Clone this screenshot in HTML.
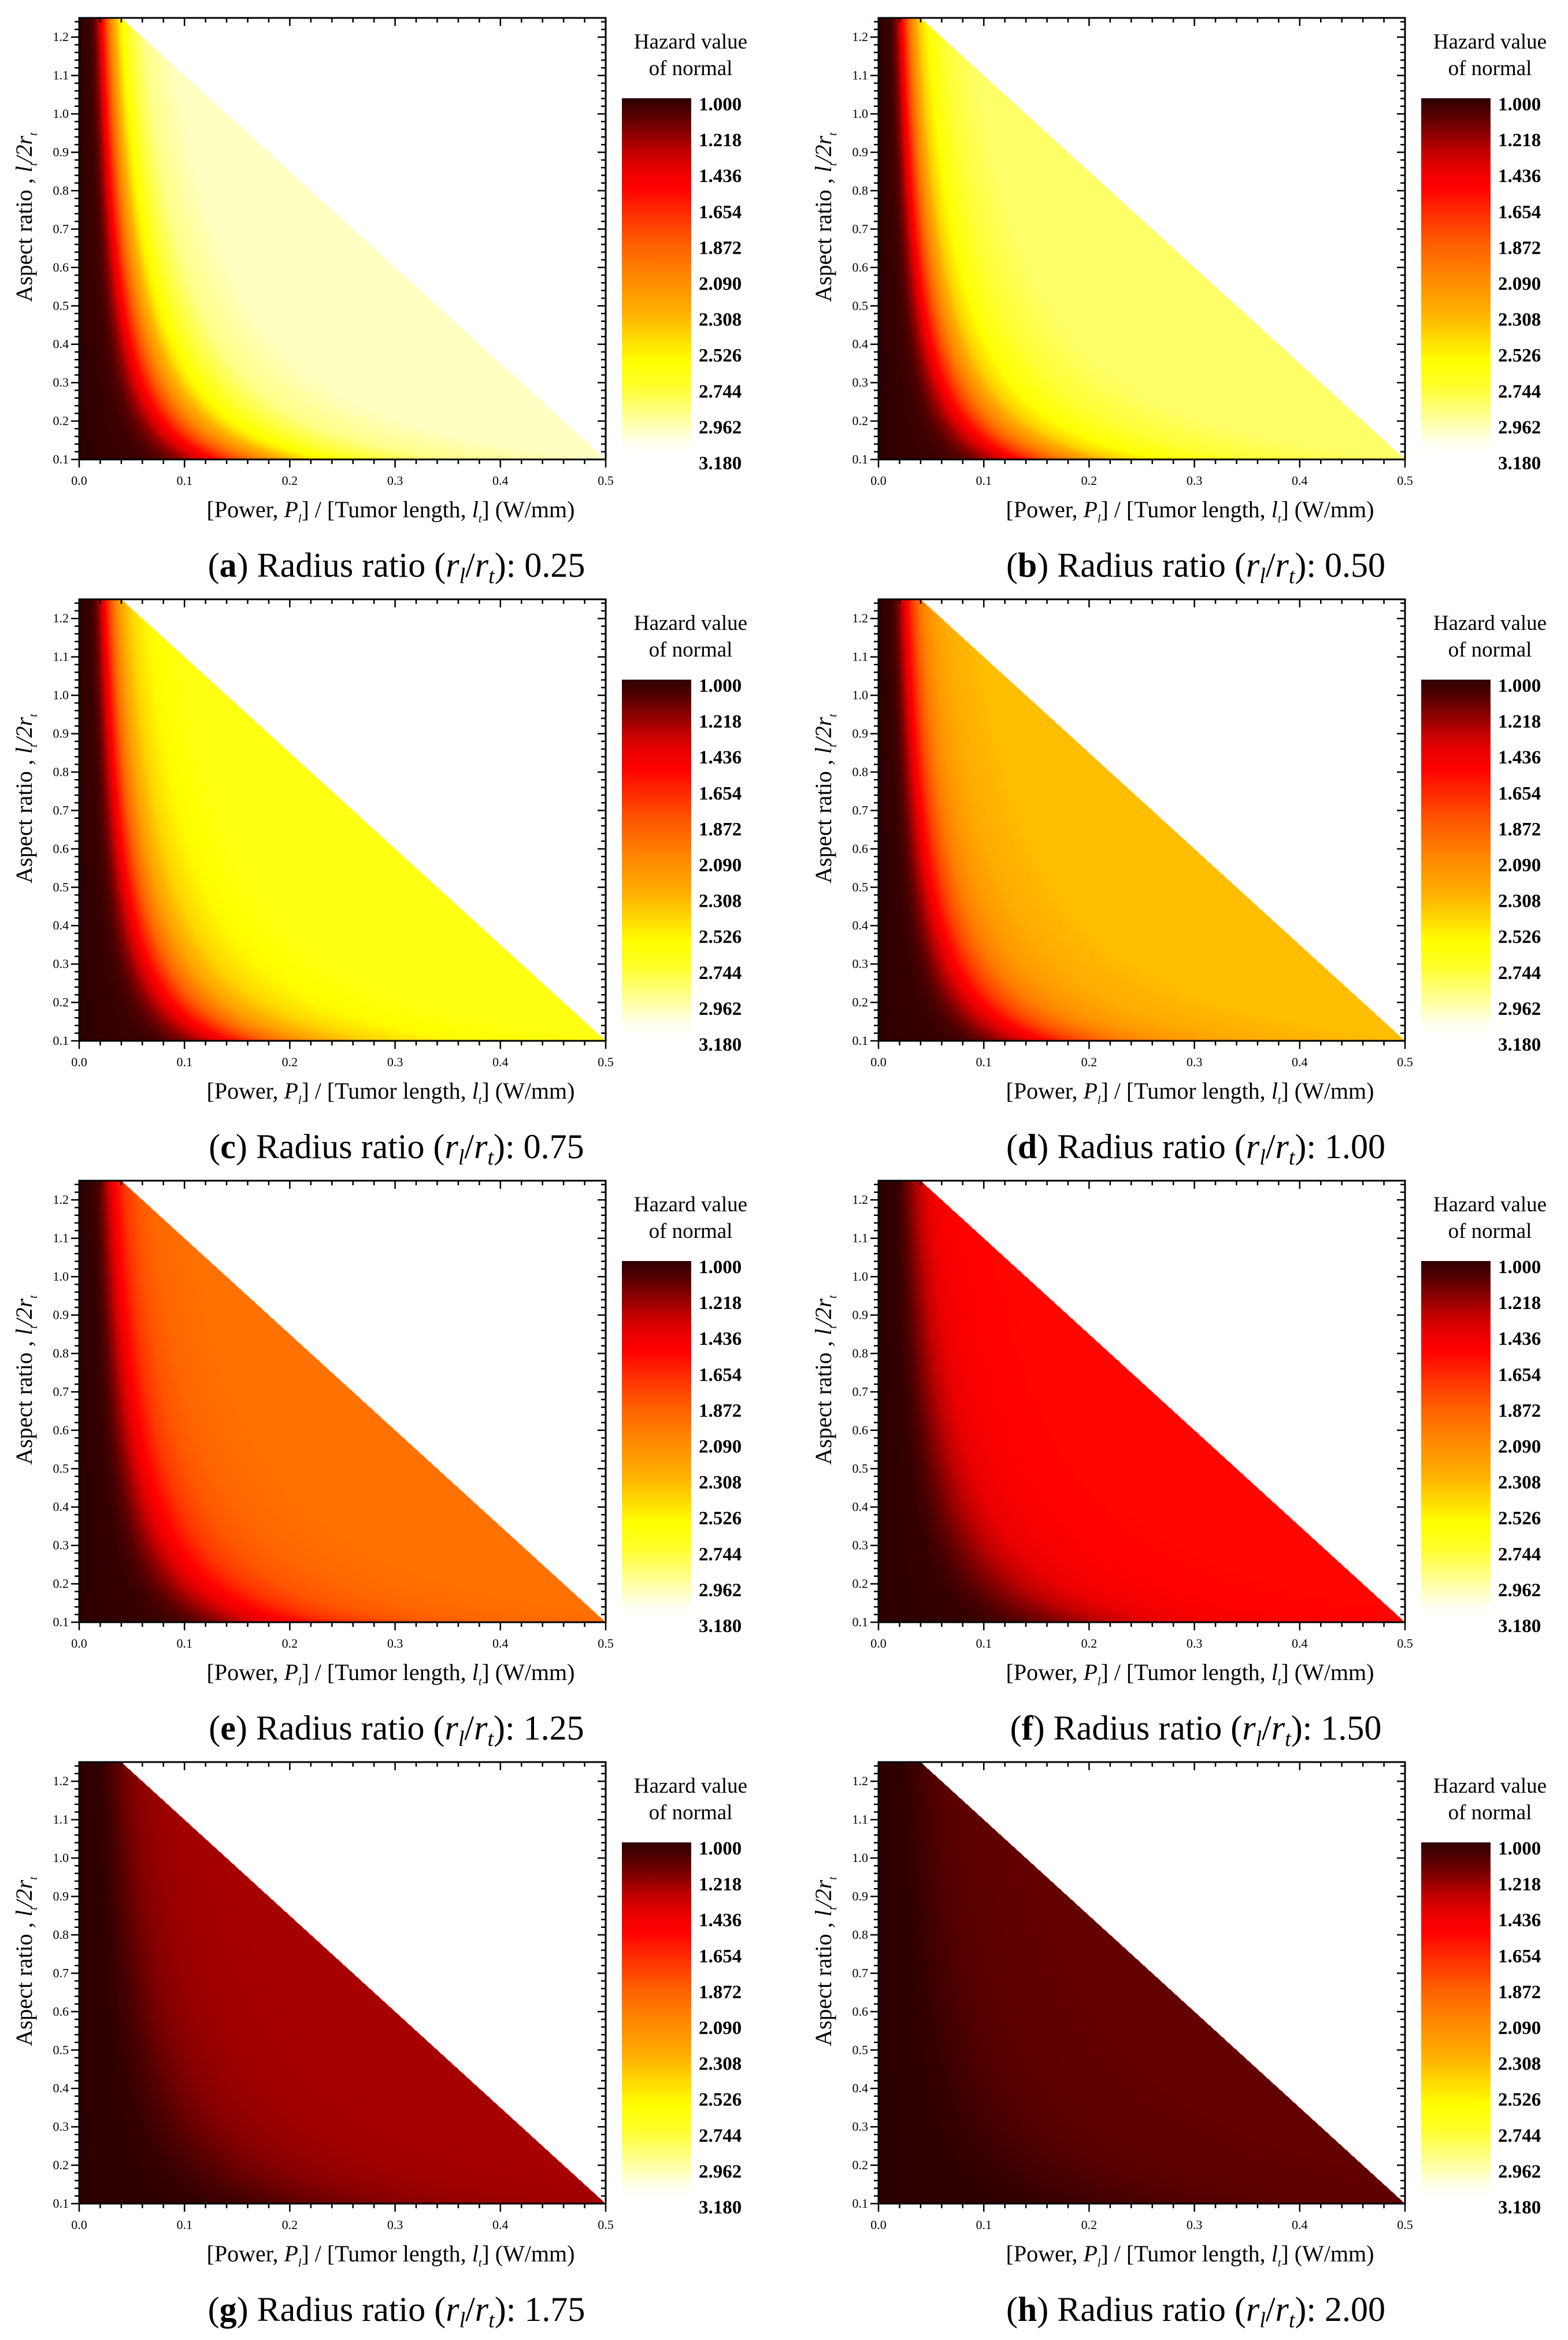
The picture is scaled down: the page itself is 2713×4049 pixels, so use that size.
<!DOCTYPE html>
<html><head><meta charset="utf-8">
<style>
html,body{margin:0;padding:0;background:#fff;}
body{width:2713px;height:4047px;position:relative;overflow:hidden;font-family:"Liberation Serif",serif;}
.panel{position:absolute;width:1350px;height:1000px;}
.panel canvas{position:absolute;left:0;top:0;}
.panel svg{position:absolute;left:0;top:0;overflow:visible;}
</style></head>
<body>
<script>
// ---- data ----
const panelLetters = ['a','b','c','d','e','f','g','h'];
const radiusRatios = ['0.25','0.50','0.75','1.00','1.25','1.50','1.75','2.00'];
const plateauValues = [3.02, 2.86, 2.66, 2.36, 1.98, 1.57, 1.27, 1.13];
const profileSpeed = [1.0, 1.0, 0.97, 0.95, 0.88, 0.81, 0.74, 0.68];
const profileS = [0, 0.012, 0.016, 0.02, 0.025, 0.03, 0.036, 0.045, 0.055, 0.07, 0.1, 1];
const profileG = [0, 0.02, 0.05, 0.12, 0.25, 0.4, 0.57, 0.76, 0.87, 0.95, 1.0, 1.0];
const xTicks = [0.0, 0.1, 0.2, 0.3, 0.4, 0.5];
const yTicks = [0.1, 0.2, 0.3, 0.4, 0.5, 0.6, 0.7, 0.8, 0.9, 1.0, 1.1, 1.2];
const cbarTicks = ['1.000','1.218','1.436','1.654','1.872','2.090','2.308','2.526','2.744','2.962','3.180'];
const cmapV = [1.0, 1.1, 1.218, 1.33, 1.436, 1.55, 1.654, 1.872, 2.09, 2.308, 2.45, 2.6, 2.744, 2.962, 3.1, 3.18];
const cmapR = [45, 85, 140, 195, 235, 255, 255, 255, 255, 255, 255, 255, 255, 255, 255, 255];
const cmapGc = [0, 0, 0, 0, 0, 0, 32, 90, 136, 176, 215, 255, 255, 255, 255, 255];
const cmapB = [0, 0, 0, 0, 0, 0, 0, 0, 0, 0, 0, 0, 40, 160, 240, 255];

const X0=0, X1=0.5, Y0=0.1, Y1=1.25;
const PW=911, PH=764;
function interp(xs, ys, v){
  if(v<=xs[0]) return ys[0];
  for(let i=1;i<xs.length;i++){ if(v<=xs[i]){const t=(v-xs[i-1])/(xs[i]-xs[i-1]);return ys[i-1]+t*(ys[i]-ys[i-1]);} }
  return ys[ys.length-1];
}
function color(v){return [interp(cmapV,cmapR,v),interp(cmapV,cmapGc,v),interp(cmapV,cmapB,v)];}
function sx(x){return (x-X0)/(X1-X0)*PW;}
function sy(y){return PH-(y-Y0)/(Y1-Y0)*PH;}
const NS='http://www.w3.org/2000/svg';
function st(tag, attrs, parent){const e=document.createElementNS(NS,tag);for(const k in attrs)e.setAttribute(k,attrs[k]);parent.appendChild(e);return e;}

panelLetters.forEach((L, idx)=>{
  const col=idx%2, row=Math.floor(idx/2);
  const left=137+col*1383, top=31+row*1006;
  const panel=document.createElement('div');
  panel.className='panel';
  
  
  panel.style.left=left+'px'; panel.style.top=top+'px';
  document.body.appendChild(panel);

  const cv=document.createElement('canvas');
  
  
  cv.width=PW; cv.height=PH;
  panel.appendChild(cv);
  const ctx=cv.getContext('2d');
  const img=ctx.createImageData(PW,PH);
  const P=plateauValues[idx], k=profileSpeed[idx];
  for(let py=0;py<PH;py++){
    const y=Y1-(py+0.5)/PH*(Y1-Y0);
    const yp=Math.pow(y,0.7);
    for(let px=0;px<PW;px++){
      const x=(px+0.5)/PW*(X1-X0);
      const o=(py*PW+px)*4;
      let c=[255,255,255];
      if(y <= 1.25-2.5*(x-0.04)){
        const g=interp(profileS,profileG,x*yp*k);
        c=color(1+(P-1)*g);
      }
      img.data[o]=c[0];img.data[o+1]=c[1];img.data[o+2]=c[2];img.data[o+3]=255;
    }
  }
  ctx.putImageData(img,0,0);

  const svg=document.createElementNS(NS,'svg');
  svg.setAttribute('width','1350'); svg.setAttribute('height','1000');
  
  
  panel.appendChild(svg);
  const frame=st('rect',{x:0,y:0,width:PW,height:PH,fill:'none',stroke:'#000','stroke-width':3},svg);
  
  
  for(let i=0;i<=25;i++){
    const v=i*0.02, X=sx(v), major=(i%5===0);
    const len=major?14:8;
    st('line',{x1:X,y1:PH,x2:X,y2:PH+len,stroke:'#000','stroke-width':2.5},svg);
    st('line',{x1:X,y1:0,x2:X,y2:len,stroke:'#000','stroke-width':2.5},svg);
  }
  xTicks.forEach(v=>{
    const t=st('text',{x:sx(v),y:PH+44,'font-size':22,'text-anchor':'middle',fill:'#000'},svg);
    t.textContent=v.toFixed(1);
    
    
  });
  for(let i=0;i<=57;i++){
    const v=0.1+i*0.02; if(v>1.2501) break;
    const Y=sy(v), major=(i%5===0);
    const len=major?14:8;
    st('line',{x1:-len,y1:Y,x2:0,y2:Y,stroke:'#000','stroke-width':2.5},svg);
    st('line',{x1:PW-len,y1:Y,x2:PW,y2:Y,stroke:'#000','stroke-width':2.5},svg);
  }
  yTicks.forEach(v=>{
    const t=st('text',{x:-18,y:sy(v)+7,'font-size':22,'text-anchor':'end',fill:'#000'},svg);
    t.textContent=v.toFixed(1);
    
    
  });
  const xt=st('text',{x:539,y:PH+100,'font-size':40,'text-anchor':'middle',fill:'#000'},svg);
  
  
  xt.innerHTML='[Power, <tspan font-style="italic">P</tspan><tspan font-style="italic" font-size="20" dy="9">l</tspan><tspan dy="-9">] / [Tumor length, </tspan><tspan font-style="italic">l</tspan><tspan font-style="italic" font-size="20" dy="9">t</tspan><tspan dy="-9">]  (W/mm)</tspan>';
  const yt=st('text',{x:0,y:0,'font-size':40,'text-anchor':'middle',fill:'#000',transform:'translate(-82,345) rotate(-90)'},svg);
  
  
  yt.innerHTML='Aspect ratio , <tspan font-style="italic">l</tspan><tspan font-style="italic" font-size="20" dy="9">t</tspan><tspan font-style="italic" dy="-9">/2r</tspan><tspan font-style="italic" font-size="20" dy="9">t</tspan>';
  const cap=st('text',{x:549,y:PH+203,'font-size':60,'text-anchor':'middle',fill:'#000'},svg);
  
  
  cap.innerHTML='(<tspan font-weight="bold">'+L+'</tspan>) Radius ratio (<tspan font-style="italic">r</tspan><tspan font-style="italic" font-size="38" dy="11">l</tspan><tspan dy="-11">/</tspan><tspan font-style="italic">r</tspan><tspan font-style="italic" font-size="38" dy="11">t</tspan><tspan dy="-11">): '+radiusRatios[idx]+'</tspan>';
  const defs=st('defs',{},svg);
  const grad=st('linearGradient',{id:'cb'+L,x1:0,y1:0,x2:0,y2:1},defs);
  cmapV.forEach((v,i)=>{
    st('stop',{offset:((v-1)/(3.18-1)),'stop-color':'rgb('+cmapR[i]+','+cmapGc[i]+','+cmapB[i]+')'},grad);
  });
  const cb=st('rect',{x:939,y:139,width:120,height:619,fill:'url(#cb'+L+')'},svg);
  
  
  cbarTicks.forEach((s,i)=>{
    const t=st('text',{x:1072,y:139+9+i*62.1+12,'font-size':33,'font-weight':'bold',fill:'#000'},svg);
    t.textContent=s;
    
    
  });
  const ct1=st('text',{x:1058,y:53,'font-size':37,'text-anchor':'middle',fill:'#000'},svg);
  ct1.textContent='Hazard value';
  
  
  const ct2=st('text',{x:1058,y:99,'font-size':37,'text-anchor':'middle',fill:'#000'},svg);
  ct2.textContent='of normal';
  
  
});
</script>
</body></html>
